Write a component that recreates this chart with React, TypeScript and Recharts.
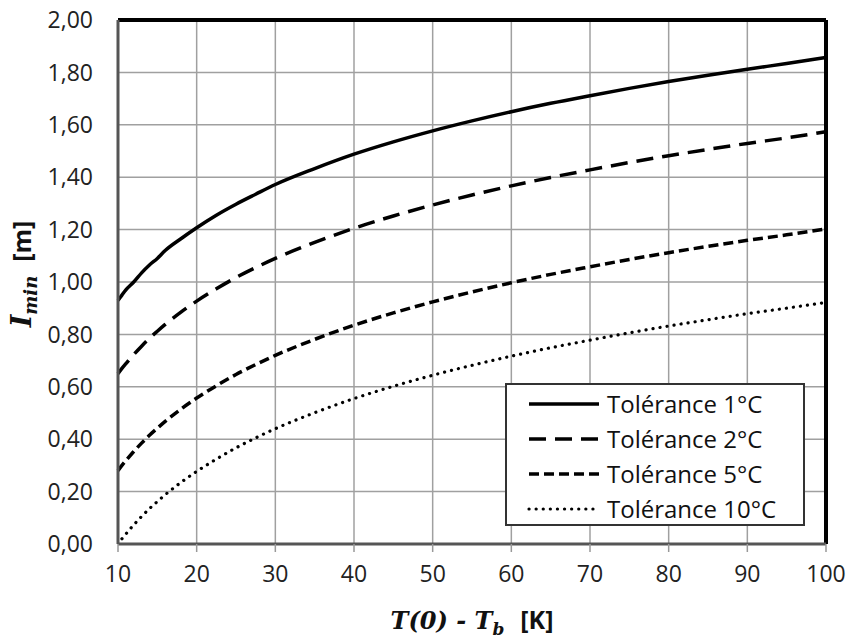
import { LineChart, Line, XAxis, YAxis, CartesianGrid, ReferenceLine } from "recharts";

const xValues = [10, 10.5, 11, 12, 13, 14, 15, 16, 18, 20, 22.5, 25, 27.5, 30, 35, 40, 45, 50, 55, 60, 65, 70, 75, 80, 85, 90, 95, 100];
const tol1 = [0.93, 0.95, 0.97, 1.0, 1.035, 1.065, 1.09, 1.12, 1.165, 1.207, 1.255, 1.297, 1.335, 1.372, 1.433, 1.488, 1.535, 1.577, 1.615, 1.65, 1.682, 1.711, 1.739, 1.765, 1.789, 1.812, 1.834, 1.857];
const tol2 = [0.65, 0.67, 0.688, 0.723, 0.755, 0.785, 0.812, 0.838, 0.885, 0.927, 0.974, 1.017, 1.055, 1.09, 1.151, 1.205, 1.252, 1.294, 1.332, 1.367, 1.399, 1.428, 1.456, 1.482, 1.506, 1.529, 1.55, 1.574];
const tol5 = [0.28, 0.3, 0.318, 0.353, 0.385, 0.415, 0.442, 0.468, 0.515, 0.557, 0.604, 0.647, 0.685, 0.72, 0.781, 0.835, 0.882, 0.924, 0.962, 0.997, 1.029, 1.058, 1.086, 1.112, 1.136, 1.159, 1.18, 1.203];
const tol10 = [null, 0.02, 0.038, 0.073, 0.105, 0.135, 0.162, 0.188, 0.235, 0.277, 0.324, 0.367, 0.405, 0.44, 0.501, 0.555, 0.602, 0.644, 0.682, 0.717, 0.749, 0.778, 0.806, 0.832, 0.856, 0.879, 0.9, 0.922];

const xTicks = [10, 20, 30, 40, 50, 60, 70, 80, 90, 100];
const yTicks = [0, 0.2, 0.4, 0.6, 0.8, 1.0, 1.2, 1.4, 1.6, 1.8, 2.0];

const series = [
  { key: "t1", name: "Tolérance 1°C", dash: undefined, width: 3.5, cap: "butt" },
  { key: "t2", name: "Tolérance 2°C", dash: "17 9", width: 3.5, cap: "butt" },
  { key: "t5", name: "Tolérance 5°C", dash: "10 5", width: 3.5, cap: "butt" },
  { key: "t10", name: "Tolérance 10°C", dash: "0.1 7", width: 3.2, cap: "round" },
];

const data = xValues.map((x, i) => ({ x, t1: tol1[i], t2: tol2[i], t5: tol5[i], t10: tol10[i] }));

const font = "'Open Sans', sans-serif";
const serif = "'DejaVu Serif', serif";

const fmt = (v: number) => v.toFixed(2).replace(".", ",");

const LegendBox = () => (
  <div
    style={{
      position: "absolute",
      left: 505,
      top: 383,
      width: 300,
      height: 143,
      border: "2px solid #333",
      background: "white",
      fontFamily: font,
      fontSize: 24,
      color: "#111",
      boxSizing: "border-box",
      paddingTop: 1,
    }}
  >
    {series.map((s) => (
      <div key={s.key} style={{ display: "flex", alignItems: "center", height: 35 }}>
        <svg width={100} height={20}>
          <line
            x1={22}
            x2={92}
            y1={10}
            y2={10}
            stroke="#000"
            strokeWidth={s.width}
            strokeDasharray={s.dash}
            strokeLinecap={s.cap as any}
          />
        </svg>
        <span>{s.name}</span>
      </div>
    ))}
  </div>
);

const XTitle = (props: any) => {
  const { viewBox } = props;
  const cx = viewBox.x + viewBox.width / 2;
  return (
    <text x={cx} y={viewBox.y + 85} textAnchor="middle" fill="#111">
      <tspan fontFamily={serif} fontStyle="italic" fontWeight="bold" fontSize={24}>T(0) - T</tspan>
      <tspan fontFamily={serif} fontStyle="italic" fontWeight="bold" fontSize={17} dy={6}>b</tspan>
      <tspan fontFamily={font} fontWeight="bold" fontSize={25} dy={-6} dx={16}>[K]</tspan>
    </text>
  );
};

const YTitle = (props: any) => {
  const { viewBox } = props;
  const cy = viewBox.y + viewBox.height / 2 - 8;
  const cx = 31;
  return (
    <text x={cx} y={cy} textAnchor="middle" fill="#111" transform={`rotate(-90, ${cx}, ${cy})`}>
      <tspan fontFamily={serif} fontStyle="italic" fontWeight="bold" fontSize={27}>I</tspan>
      <tspan fontFamily={serif} fontStyle="italic" fontWeight="bold" fontSize={18} dy={6}>min</tspan>
      <tspan fontFamily={font} fontWeight="bold" fontSize={25} dy={-6} dx={14}>[m]</tspan>
    </text>
  );
};

export default function App() {
  return (
    <div style={{ position: "relative", width: 849, height: 639, background: "white" }}>
      <style>{"html, body { margin: 0; padding: 0; overflow: hidden; }"}</style>
      <LineChart width={849} height={639} data={data} margin={{ top: 20, right: 23, left: 38, bottom: 0 }}>
        <CartesianGrid stroke="#a0a0a0" strokeWidth={1.5} />
        <XAxis
          type="number"
          dataKey="x"
          domain={[10, 100]}
          ticks={xTicks}
          interval={0}
          axisLine={{ stroke: "#555", strokeWidth: 3 }}
          tickLine={{ stroke: "#999", strokeWidth: 1.5 }}
          tickSize={8}
          tickMargin={14}
          height={95}
          tick={{ fill: "#222", fontFamily: font, fontSize: 23 }}
          label={<XTitle />}
        />
        <YAxis
          type="number"
          domain={[0, 2]}
          ticks={yTicks}
          interval={0}
          width={80}
          axisLine={{ stroke: "#555", strokeWidth: 3 }}
          tickLine={false}
          tickSize={0}
          tickMargin={25}
          tickFormatter={fmt}
          tick={{ fill: "#222", fontFamily: font, fontSize: 23 }}
          label={<YTitle />}
        />
        <ReferenceLine y={2} stroke="#000" strokeWidth={4} />
        <ReferenceLine x={100} stroke="#000" strokeWidth={4} />
        {series.map((s) => (
          <Line
            key={s.key}
            dataKey={s.key}
            name={s.name}
            type="monotone"
            stroke="#000"
            strokeWidth={s.width}
            strokeDasharray={s.dash}
            strokeLinecap={s.cap as any}
            dot={false}
            activeDot={false}
            connectNulls={false}
            isAnimationActive={false}
          />
        ))}
      </LineChart>
      <LegendBox />
    </div>
  );
}
